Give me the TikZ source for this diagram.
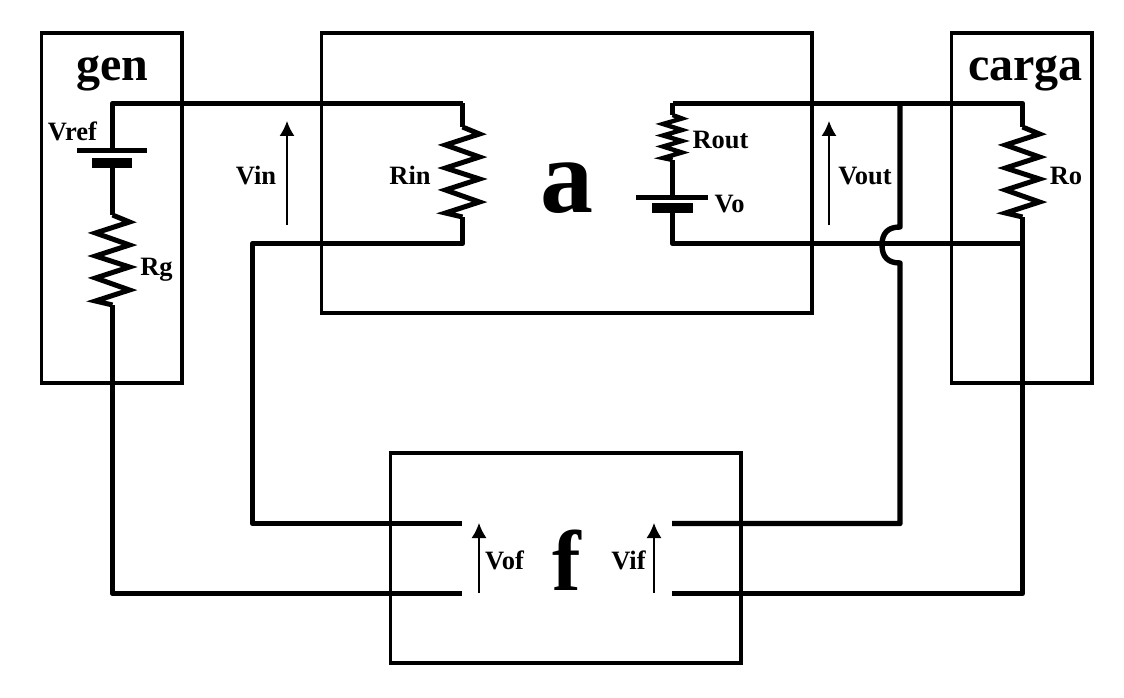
\documentclass[tikz,border=0pt]{standalone}
\usepackage{fontspec}
\usetikzlibrary{arrows.meta}
\setmainfont{Liberation Serif}
\begin{document}
\begin{tikzpicture}[x=1pt,y=-1pt,
  box/.style={draw=black,line width=3.2pt,line join=miter},
  wire/.style={draw=black,line width=5.4pt,line join=round},
  res/.style={draw=black,line width=5pt,line join=miter,miter limit=10},
  volt/.style={draw=black,line width=1.6pt,-{Latex[length=15pt,width=15pt]}},
  lab/.style={font=\fontsize{26.5}{27}\selectfont\bfseries,inner sep=0pt,anchor=base},
  big/.style={font=\fontsize{48}{48}\selectfont\bfseries,inner sep=0pt,anchor=base},
  huge/.style={font=\fontsize{106}{106}\selectfont\bfseries,inner sep=0pt,anchor=base},
  hugef/.style={font=\fontsize{86}{86}\selectfont\bfseries,inner sep=0pt,anchor=base},
  plate/.style={draw=black,line width=5pt},
  fatplate/.style={draw=black,line width=10pt}]
\useasboundingbox (0,0) rectangle (1124,698);
\fill[white] (0,0) rectangle (1124,698);
% blocks
\draw[box] (41.5,33) rectangle (182,383);
\draw[box] (321.5,33) rectangle (812,313);
\draw[box] (951.5,33) rectangle (1092,383);
\draw[box] (390.5,453) rectangle (741,663);
% junctions
\coordinate (tl) at (112.5,103.5);
\coordinate (rinT) at (462.5,103.5);
\coordinate (rinB) at (462.5,243.5);
\coordinate (routT) at (672.5,103.5);
\coordinate (voB) at (672.5,243.5);
\coordinate (roT) at (1022.5,103.5);
\coordinate (roB) at (1022.5,243.5);
\coordinate (vtap) at (900,103.5);
\coordinate (hopT) at (900,227);
\coordinate (hopB) at (900,263);
\coordinate (fb1) at (252.5,243.5);
\coordinate (fb2) at (252.5,523.5);
\coordinate (fb3) at (112.5,593.5);
\coordinate (fofT) at (462,523.5);
\coordinate (fofB) at (462,593.5);
\coordinate (fifT) at (672,523.5);
\coordinate (fifB) at (672,593.5);
\coordinate (fb4) at (900,523.5);
\coordinate (fb5) at (1022.5,593.5);
% wires
\draw[wire] (rinT) -- (tl) -- (112.5,150);
\draw[wire] (112.5,163) -- (112.5,215);
\draw[wire] (112.5,305) -- (112.5,333) -- (fb3) -- (fofB);
\draw[wire] (rinT) -- (462.5,127);
\draw[wire] (462.5,217) -- (rinB) -- (fb1) -- (fb2) -- (fofT);
\draw[wire] (routT) -- (672.5,115);
\draw[wire] (672.5,160) -- (672.5,197);
\draw[wire] (672.5,207) -- (voB) -- (roB);
\draw[wire] (routT) -- (roT) -- (1022.5,127);
\draw[wire] (1022.5,217) -- (roB) -- (fb5) -- (fifB);
\draw[wire] (vtap) -- (hopT) .. controls (888,227) and (882,233) .. (882,245) .. controls (882,257) and (888,263) .. (hopB) -- (fb4) -- (fifT);
% resistors
\draw[res] (462.5,127) -- (479.5,134) -- (445.5,145) -- (479.5,157) -- (445.5,168) -- (479.5,179) -- (445.5,190) -- (479.5,202) -- (445.5,213) -- (462.5,217);
\draw[res] (1022.5,127) -- (1039.5,134) -- (1005.5,145) -- (1039.5,157) -- (1005.5,168) -- (1039.5,179) -- (1005.5,190) -- (1039.5,202) -- (1005.5,213) -- (1022.5,217);
\draw[res] (112.5,215) -- (129.5,222) -- (95.5,233) -- (129.5,245) -- (95.5,256) -- (129.5,267) -- (95.5,278) -- (129.5,290) -- (95.5,301) -- (112.5,305);
\draw[res,line width=4.4pt] (672.5,115) -- (682,118.5) -- (663,124) -- (682,130) -- (663,135.5) -- (682,141) -- (663,146.5) -- (682,152.5) -- (663,158) -- (672.5,160);
% sources
\draw[plate] (77,150.5) -- (147,150.5);
\draw[fatplate] (92,163) -- (132,163);
\draw[plate] (636,197.5) -- (708,197.5);
\draw[fatplate] (652,207.5) -- (693,207.5);
% voltage arrows
\coordinate (vinA) at (287,225); \coordinate (vinB) at (287,121);
\coordinate (voutA) at (829,225); \coordinate (voutB) at (829,121);
\coordinate (vofA) at (479,593); \coordinate (vofB) at (479,523);
\coordinate (vifA) at (654,593); \coordinate (vifB) at (654,523);
\draw[volt] (vinA) -- (vinB);
\draw[volt] (voutA) -- (voutB);
\draw[volt] (vofA) -- (vofB);
\draw[volt] (vifA) -- (vifB);
% labels
\node[big] (tgen) at (112.5,81) {gen};
\node[big] (tcarga) at (1025.5,81) {carga};
\node[huge] (ta) at (567,212) {a};
\node[hugef] (tf) at (566.5,590) {f};
\node[lab] (l1) at (72.5,140) {Vref};
\node[lab] (l2) at (156.5,275) {Rg};
\node[lab] (l3) at (256,184) {Vin};
\node[lab] (l4) at (410,184) {Rin};
\node[lab] (l5) at (720.5,149) {Rout};
\node[lab] (l6) at (729.5,212) {Vo};
\node[lab] (l7) at (865,184) {Vout};
\node[lab] (l8) at (1066,184) {Ro};
\node[lab] (l9) at (504.5,569) {Vof};
\node[lab] (l10) at (628.5,569) {Vif};
\end{tikzpicture}
\end{document}
